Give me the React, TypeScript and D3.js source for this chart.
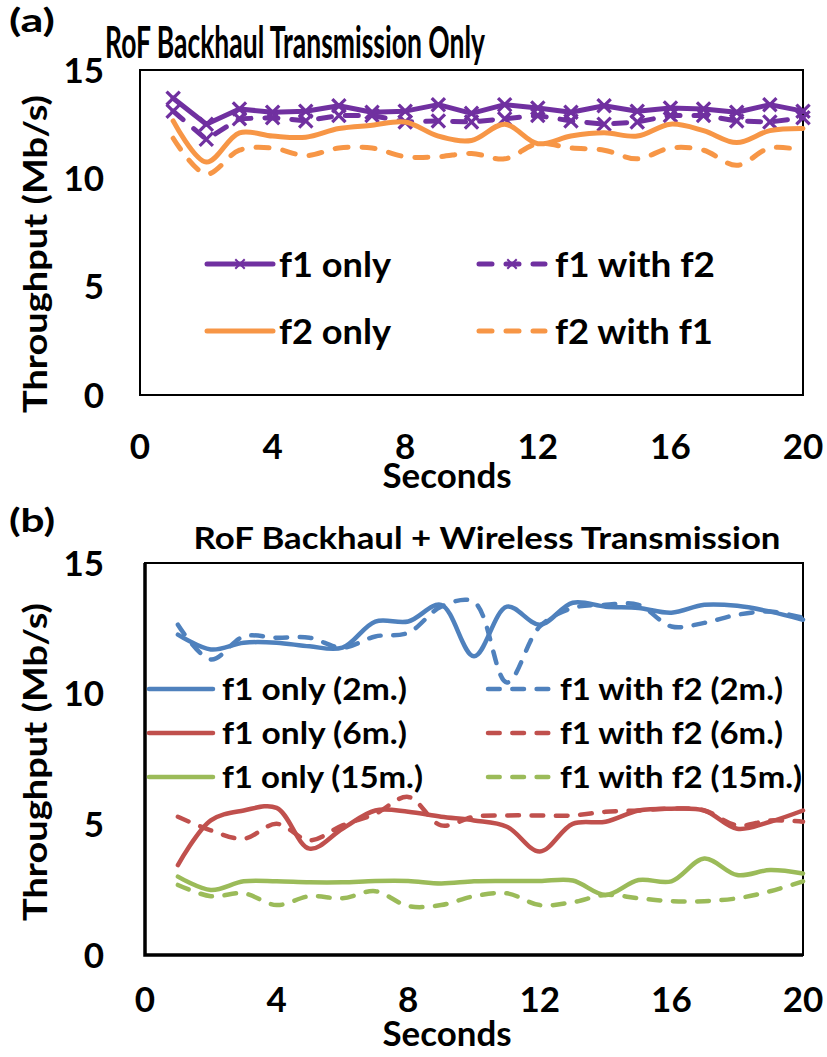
import React from "react";
import * as d3 from "d3";

// Time axis (seconds)
const seconds = [1, 2, 3, 4, 5, 6, 7, 8, 9, 10, 11, 12, 13, 14, 15, 16, 17, 18, 19, 20];
const xTicks = [0, 4, 8, 12, 16, 20];
const yTicks = [0, 5, 10, 15];

// (a) RoF backhaul only, throughput in Mb/s
const aF1Only = [13.7, 12.5, 13.2, 13.05, 13.1, 13.35, 13.05, 13.1, 13.4, 13.0, 13.4, 13.25, 13.05, 13.35, 13.1, 13.25, 13.2, 13.05, 13.4, 13.1];
const aF1WithF2 = [13.1, 11.8, 12.75, 12.8, 12.65, 12.9, 12.9, 12.6, 12.65, 12.6, 12.75, 12.9, 12.65, 12.5, 12.6, 12.9, 12.9, 12.65, 12.6, 12.8];
const aF2Only = [12.65, 10.75, 12.1, 11.95, 11.9, 12.3, 12.45, 12.6, 11.95, 11.75, 12.5, 11.6, 11.95, 12.1, 11.95, 12.5, 12.2, 11.65, 12.2, 12.3];
const aF2WithF1 = [11.85, 10.2, 11.3, 11.4, 11.05, 11.4, 11.4, 11.0, 11.0, 11.15, 10.9, 11.6, 11.4, 11.3, 10.9, 11.4, 11.3, 10.6, 11.4, 11.3];

// (b) RoF backhaul + wireless, throughput in Mb/s
const bF1Only2 = [12.26, 11.69, 11.95, 11.95, 11.81, 11.76, 12.76, 12.76, 13.4, 11.43, 13.33, 12.64, 13.48, 13.33, 13.28, 13.1, 13.4, 13.36, 13.14, 12.83];
const bF1WithF2_2 = [12.64, 11.31, 12.19, 12.14, 12.14, 11.76, 12.19, 12.33, 13.33, 13.51, 10.43, 12.57, 13.28, 13.4, 13.4, 12.57, 12.71, 13.02, 13.14, 12.9];
const bF1Only6 = [3.44, 5.15, 5.53, 5.63, 4.07, 4.83, 5.53, 5.48, 5.29, 5.15, 4.91, 3.96, 5.02, 5.1, 5.53, 5.6, 5.53, 4.83, 5.1, 5.53];
const bF1WithF2_6 = [5.29, 4.77, 4.45, 5.02, 4.39, 4.96, 5.4, 6.05, 4.96, 5.29, 5.34, 5.34, 5.34, 5.48, 5.53, 5.6, 5.53, 4.96, 5.15, 5.1];
const bF1Only15 = [3.0, 2.49, 2.82, 2.82, 2.78, 2.78, 2.83, 2.83, 2.74, 2.82, 2.83, 2.83, 2.85, 2.3, 2.87, 2.82, 3.69, 3.06, 3.25, 3.12];
const bF1WithF2_15 = [2.68, 2.25, 2.36, 1.91, 2.25, 2.17, 2.44, 1.87, 1.91, 2.25, 2.36, 1.91, 2.02, 2.3, 2.17, 2.06, 2.06, 2.17, 2.44, 2.82];

const PURPLE = "#7030A0";
const ORANGE = "#F79646";
const BLUE = "#4F81BD";
const RED = "#C0504D";
const GREEN = "#9BBB59";

const FONT = "Lato, 'Open Sans', sans-serif";

type Series = {
  name: string;
  values: number[];
  color: string;
  dashed: boolean;
  markers: boolean;
  smooth: boolean;
  width: number;
  col: number;
  row: number;
  labelWidth: number;
};

const seriesA: Series[] = [
  { name: "f1 only", values: aF1Only, color: PURPLE, dashed: false, markers: true, smooth: false, width: 5, col: 0, row: 0, labelWidth: 112 },
  { name: "f1 with f2", values: aF1WithF2, color: PURPLE, dashed: true, markers: true, smooth: false, width: 5, col: 1, row: 0, labelWidth: 160 },
  { name: "f2 only", values: aF2Only, color: ORANGE, dashed: false, markers: false, smooth: true, width: 5, col: 0, row: 1, labelWidth: 112 },
  { name: "f2 with f1", values: aF2WithF1, color: ORANGE, dashed: true, markers: false, smooth: true, width: 5, col: 1, row: 1, labelWidth: 158 },
];

const seriesB: Series[] = [
  { name: "f1 only (2m.)", values: bF1Only2, color: BLUE, dashed: false, markers: false, smooth: true, width: 4.5, col: 0, row: 0, labelWidth: 185 },
  { name: "f1 with f2 (2m.)", values: bF1WithF2_2, color: BLUE, dashed: true, markers: false, smooth: true, width: 4.5, col: 1, row: 0, labelWidth: 223 },
  { name: "f1 only (6m.)", values: bF1Only6, color: RED, dashed: false, markers: false, smooth: true, width: 4.5, col: 0, row: 1, labelWidth: 185 },
  { name: "f1 with f2 (6m.)", values: bF1WithF2_6, color: RED, dashed: true, markers: false, smooth: true, width: 4.5, col: 1, row: 1, labelWidth: 223 },
  { name: "f1 only (15m.)", values: bF1Only15, color: GREEN, dashed: false, markers: false, smooth: true, width: 4.5, col: 0, row: 2, labelWidth: 201 },
  { name: "f1 with f2 (15m.)", values: bF1WithF2_15, color: GREEN, dashed: true, markers: false, smooth: true, width: 4.5, col: 1, row: 2, labelWidth: 242 },
];

type Frame = { left: number; right: number; top: number; bottom: number };

type PanelProps = {
  frame: Frame;
  series: Series[];
  tag: string;
  tagY: number;
  title: string;
  titleX: number;
  titleY: number;
  titleSize: number;
  titleWidth: number;
  tickBaseline: number;
  xTitleBaseline: number;
  yTitleCenter: number;
  legendCols: { lineX0: number; lineX1: number; textX: number }[];
  legendRows: number[];
  legendSize: number;
  heavyAxes: boolean;
};

function XMarker({ cx, cy, r, color, sw }: { cx: number; cy: number; r: number; color: string; sw: number }) {
  return (
    <path
      d={`M${cx - r},${cy - r}L${cx + r},${cy + r}M${cx - r},${cy + r}L${cx + r},${cy - r}`}
      stroke={color}
      strokeWidth={sw}
      strokeLinecap="square"
      fill="none"
    />
  );
}

function Panel(p: PanelProps) {
  const { frame } = p;
  const x = d3.scaleLinear().domain([0, 20]).range([frame.left, frame.right]);
  const y = d3.scaleLinear().domain([0, 15]).range([frame.bottom, frame.top]);

  const pathFor = (s: Series) => {
    const gen = d3
      .line<number>()
      .x((_, i) => x(seconds[i]))
      .y((v) => y(v))
      .curve(s.smooth ? d3.curveCatmullRom.alpha(0.5) : d3.curveLinear);
    return gen(s.values) || "";
  };

  const dash = (s: Series) => (s.dashed ? `${s.width * 2.6} ${s.width * 2.8}` : undefined);

  return (
    <g fontFamily={FONT} fontWeight={700} fill="#000">
      <text x={9} y={p.tagY} fontSize={33} textLength={46} lengthAdjust="spacingAndGlyphs">{p.tag}</text>
      <text
        x={p.titleX}
        y={p.titleY}
        fontSize={p.titleSize}
        textAnchor="middle"
        textLength={p.titleWidth}
        lengthAdjust="spacingAndGlyphs"
      >
        {p.title}
      </text>

      {/* plot frame */}
      <rect
        x={frame.left}
        y={frame.top}
        width={frame.right - frame.left}
        height={frame.bottom - frame.top}
        fill="#fff"
        stroke="#000"
        strokeWidth={2}
      />
      {p.heavyAxes && (
        <path
          d={`M${frame.left},${frame.top}V${frame.bottom}H${frame.right}`}
          stroke="#000"
          strokeWidth={3.5}
          fill="none"
        />
      )}

      {/* y ticks */}
      {yTicks.map((t) => (
        <text key={"y" + t} x={104} y={y(t)} dy="0.36em" fontSize={35} textAnchor="end">
          {t}
        </text>
      ))}
      {/* x ticks */}
      {xTicks.map((t) => (
        <text key={"x" + t} x={x(t)} y={p.tickBaseline} fontSize={35} textAnchor="middle">
          {t}
        </text>
      ))}
      <text x={447} y={p.xTitleBaseline} fontSize={35} textAnchor="middle" textLength={129} lengthAdjust="spacingAndGlyphs">
        Seconds
      </text>
      <text
        transform={`translate(47,${p.yTitleCenter}) rotate(-90)`}
        fontSize={33}
        textAnchor="middle"
        textLength={318}
        lengthAdjust="spacingAndGlyphs"
      >
        Throughput (Mb/s)
      </text>

      {/* series */}
      {p.series.map((s) => (
        <g key={s.name}>
          <path
            d={pathFor(s)}
            fill="none"
            stroke={s.color}
            strokeWidth={s.width}
            strokeDasharray={dash(s)}
            strokeLinecap="round"
            strokeLinejoin="round"
          />
          {s.markers &&
            s.values.map((v, i) => (
              <XMarker key={i} cx={x(seconds[i])} cy={y(v)} r={5.5} color={s.color} sw={3.2} />
            ))}
        </g>
      ))}

      {/* legend */}
      {p.series.map((s) => {
        const c = p.legendCols[s.col];
        const ly = p.legendRows[s.row];
        return (
          <g key={"lg" + s.name}>
            <line
              x1={c.lineX0}
              x2={c.lineX1}
              y1={ly}
              y2={ly}
              stroke={s.color}
              strokeWidth={s.width}
              strokeLinecap="round"
              strokeDasharray={dash(s)}
            />
            {s.markers && (
              <XMarker cx={(c.lineX0 + c.lineX1) / 2} cy={ly} r={4} color={s.color} sw={2} />
            )}
            <text
              x={c.textX}
              y={ly}
              dy="0.36em"
              fontSize={p.legendSize}
              textLength={s.labelWidth}
              lengthAdjust="spacingAndGlyphs"
            >
              {s.name}
            </text>
          </g>
        );
      })}
    </g>
  );
}

export default function App() {
  return (
    <svg
      width={827}
      height={1057}
      viewBox="0 0 827 1057"
      style={{ position: "absolute", left: 0, top: 0, background: "#fff" }}
    >
      <rect width={827} height={1057} fill="#fff" />
      <Panel
        frame={{ left: 140, right: 803, top: 70, bottom: 395 }}
        series={seriesA}
        tag="(a)"
        tagY={32}
        title="RoF Backhaul Transmission Only"
        titleX={295}
        titleY={58}
        titleSize={44}
        titleWidth={380}
        tickBaseline={459}
        xTitleBaseline={488}
        yTitleCenter={254}
        legendCols={[
          { lineX0: 207, lineX1: 273, textX: 279 },
          { lineX0: 479, lineX1: 545, textX: 555 },
        ]}
        legendRows={[264, 331]}
        legendSize={35}
        heavyAxes={false}
      />
      <Panel
        frame={{ left: 145, right: 803, top: 563, bottom: 955 }}
        series={seriesB}
        tag="(b)"
        tagY={532}
        title="RoF Backhaul + Wireless Transmission"
        titleX={487}
        titleY={549}
        titleSize={30}
        titleWidth={587}
        tickBaseline={1012}
        xTitleBaseline={1046}
        yTitleCenter={762}
        legendCols={[
          { lineX0: 149, lineX1: 213, textX: 222 },
          { lineX0: 488, lineX1: 550, textX: 560 },
        ]}
        legendRows={[689, 733, 777]}
        legendSize={31}
        heavyAxes={true}
      />
    </svg>
  );
}
